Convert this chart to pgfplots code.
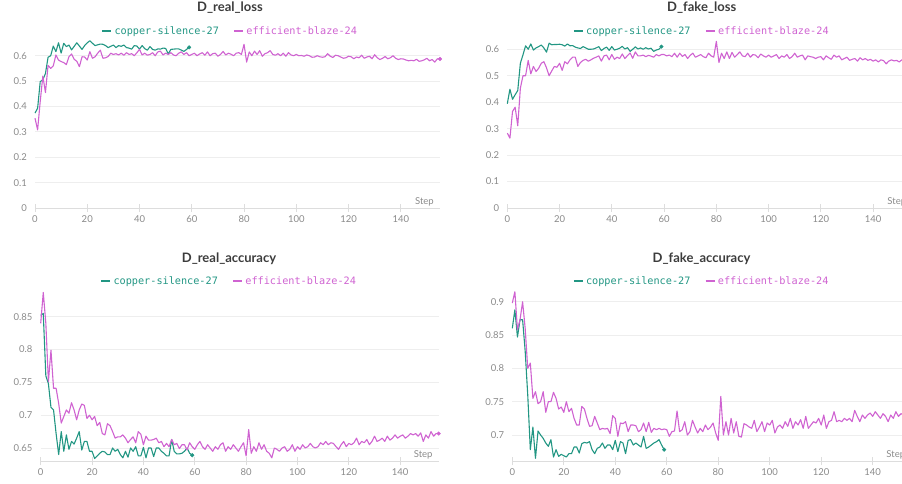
\documentclass[border=0pt]{standalone}
\usepackage{pgfplots}
\usepackage{pgfplotstable}
\pgfplotsset{compat=1.18}
\usepackage{fontspec}
\setmainfont{Lato}
\newfontfamily\monofont{DejaVu Sans Mono}

\definecolor{wbgreen}{HTML}{229683}
\definecolor{wbpink}{HTML}{CF63D1}
\definecolor{ticktext}{HTML}{8A8A8A}
\definecolor{titletext}{HTML}{3C3C3C}
\definecolor{gridgray}{HTML}{EEEEEE}
\definecolor{axisgray}{HTML}{DDDDDD}

% ---------- run data: D_real_loss ----------
\pgfplotstableread[row sep=\\]{
step v \\
0 0.374 \\ 1 0.393 \\ 2 0.498 \\ 3 0.505 \\ 4 0.530 \\ 5 0.594 \\ 6 0.600 \\ 7 0.638 \\ 8 0.616 \\ 9 0.651 \\
10 0.610 \\ 11 0.649 \\ 12 0.636 \\ 13 0.642 \\ 14 0.623 \\ 15 0.637 \\ 16 0.651 \\ 17 0.638 \\ 18 0.625 \\ 19 0.640 \\
20 0.651 \\ 21 0.659 \\ 22 0.649 \\ 23 0.640 \\ 24 0.643 \\ 25 0.646 \\ 26 0.645 \\ 27 0.640 \\ 28 0.632 \\ 29 0.637 \\
30 0.642 \\ 31 0.632 \\ 32 0.640 \\ 33 0.637 \\ 34 0.642 \\ 35 0.632 \\ 36 0.630 \\ 37 0.626 \\ 38 0.640 \\ 39 0.638 \\
40 0.626 \\ 41 0.640 \\ 42 0.628 \\ 43 0.622 \\ 44 0.636 \\ 45 0.625 \\ 46 0.622 \\ 47 0.627 \\ 48 0.626 \\ 49 0.630 \\
50 0.629 \\ 51 0.607 \\ 52 0.625 \\ 53 0.626 \\ 54 0.627 \\ 55 0.627 \\ 56 0.622 \\ 57 0.617 \\ 58 0.625 \\ 59 0.633 \\
}\realLossA
\pgfplotstableread[row sep=\\]{
step v \\
0 0.354 \\ 1 0.308 \\ 2 0.420 \\ 3 0.520 \\ 4 0.455 \\ 5 0.562 \\ 6 0.550 \\ 7 0.560 \\ 8 0.603 \\ 9 0.583 \\
10 0.577 \\ 11 0.573 \\ 12 0.565 \\ 13 0.596 \\ 14 0.607 \\ 15 0.586 \\ 16 0.578 \\ 17 0.557 \\ 18 0.596 \\ 19 0.595 \\
20 0.583 \\ 21 0.616 \\ 22 0.590 \\ 23 0.596 \\ 24 0.610 \\ 25 0.622 \\ 26 0.590 \\ 27 0.592 \\ 28 0.597 \\ 29 0.610 \\
30 0.605 \\ 31 0.608 \\ 32 0.603 \\ 33 0.610 \\ 34 0.602 \\ 35 0.612 \\ 36 0.605 \\ 37 0.608 \\ 38 0.600 \\ 39 0.612 \\
40 0.625 \\ 41 0.603 \\ 42 0.610 \\ 43 0.602 \\ 44 0.605 \\ 45 0.612 \\ 46 0.600 \\ 47 0.615 \\ 48 0.618 \\ 49 0.603 \\
50 0.610 \\ 51 0.605 \\ 52 0.612 \\ 53 0.603 \\ 54 0.600 \\ 55 0.610 \\ 56 0.615 \\ 57 0.605 \\ 58 0.612 \\ 59 0.600 \\
60 0.605 \\ 61 0.610 \\ 62 0.600 \\ 63 0.607 \\ 64 0.612 \\ 65 0.602 \\ 66 0.615 \\ 67 0.600 \\ 68 0.608 \\ 69 0.610 \\
70 0.598 \\ 71 0.605 \\ 72 0.617 \\ 73 0.603 \\ 74 0.610 \\ 75 0.606 \\ 76 0.600 \\ 77 0.610 \\ 78 0.612 \\ 79 0.605 \\
80 0.645 \\ 81 0.575 \\ 82 0.615 \\ 83 0.600 \\ 84 0.618 \\ 85 0.605 \\ 86 0.620 \\ 87 0.598 \\ 88 0.608 \\ 89 0.612 \\
90 0.620 \\ 91 0.605 \\ 92 0.602 \\ 93 0.608 \\ 94 0.600 \\ 95 0.610 \\ 96 0.598 \\ 97 0.612 \\ 98 0.603 \\ 99 0.600 \\
100 0.605 \\ 101 0.600 \\ 102 0.601 \\ 103 0.598 \\ 104 0.603 \\ 105 0.600 \\ 106 0.594 \\ 107 0.595 \\ 108 0.600 \\ 109 0.596 \\
110 0.594 \\ 111 0.596 \\ 112 0.608 \\ 113 0.598 \\ 114 0.593 \\ 115 0.602 \\ 116 0.600 \\ 117 0.595 \\ 118 0.590 \\ 119 0.592 \\
120 0.598 \\ 121 0.596 \\ 122 0.588 \\ 123 0.595 \\ 124 0.592 \\ 125 0.602 \\ 126 0.590 \\ 127 0.595 \\ 128 0.598 \\ 129 0.588 \\
130 0.604 \\ 131 0.592 \\ 132 0.585 \\ 133 0.590 \\ 134 0.597 \\ 135 0.588 \\ 136 0.592 \\ 137 0.600 \\ 138 0.590 \\ 139 0.585 \\
140 0.588 \\ 141 0.587 \\ 142 0.583 \\ 143 0.580 \\ 144 0.582 \\ 145 0.580 \\ 146 0.586 \\ 147 0.578 \\ 148 0.580 \\ 149 0.584 \\
150 0.590 \\ 151 0.580 \\ 152 0.585 \\ 153 0.575 \\ 154 0.588 \\ 155 0.587 \\
}\realLossB

% ---------- run data: D_fake_loss ----------
\pgfplotstableread[row sep=\\]{
step v \\
0 0.394 \\ 1 0.449 \\ 2 0.411 \\ 3 0.428 \\ 4 0.444 \\ 5 0.547 \\ 6 0.579 \\ 7 0.613 \\ 8 0.600 \\ 9 0.620 \\
10 0.597 \\ 11 0.605 \\ 12 0.610 \\ 13 0.616 \\ 14 0.605 \\ 15 0.589 \\ 16 0.623 \\ 17 0.617 \\ 18 0.618 \\ 19 0.618 \\
20 0.619 \\ 21 0.617 \\ 22 0.612 \\ 23 0.620 \\ 24 0.613 \\ 25 0.614 \\ 26 0.608 \\ 27 0.605 \\ 28 0.603 \\ 29 0.610 \\
30 0.605 \\ 31 0.600 \\ 32 0.600 \\ 33 0.601 \\ 34 0.605 \\ 35 0.610 \\ 36 0.595 \\ 37 0.603 \\ 38 0.608 \\ 39 0.596 \\
40 0.610 \\ 41 0.597 \\ 42 0.600 \\ 43 0.604 \\ 44 0.611 \\ 45 0.601 \\ 46 0.606 \\ 47 0.592 \\ 48 0.600 \\ 49 0.609 \\
50 0.601 \\ 51 0.605 \\ 52 0.600 \\ 53 0.606 \\ 54 0.601 \\ 55 0.604 \\ 56 0.592 \\ 57 0.597 \\ 58 0.600 \\ 59 0.610 \\
}\fakeLossA
\pgfplotstableread[row sep=\\]{
step v \\
0 0.283 \\ 1 0.264 \\ 2 0.365 \\ 3 0.381 \\ 4 0.311 \\ 5 0.453 \\ 6 0.500 \\ 7 0.500 \\ 8 0.558 \\ 9 0.507 \\
10 0.535 \\ 11 0.516 \\ 12 0.528 \\ 13 0.547 \\ 14 0.553 \\ 15 0.530 \\ 16 0.500 \\ 17 0.518 \\ 18 0.535 \\ 19 0.532 \\
20 0.547 \\ 21 0.520 \\ 22 0.553 \\ 23 0.545 \\ 24 0.560 \\ 25 0.570 \\ 26 0.570 \\ 27 0.535 \\ 28 0.550 \\ 29 0.558 \\
30 0.562 \\ 31 0.555 \\ 32 0.560 \\ 33 0.566 \\ 34 0.570 \\ 35 0.575 \\ 36 0.555 \\ 37 0.575 \\ 38 0.578 \\ 39 0.560 \\
40 0.580 \\ 41 0.562 \\ 42 0.570 \\ 43 0.565 \\ 44 0.582 \\ 45 0.565 \\ 46 0.576 \\ 47 0.586 \\ 48 0.566 \\ 49 0.590 \\
50 0.575 \\ 51 0.575 \\ 52 0.578 \\ 53 0.572 \\ 54 0.577 \\ 55 0.574 \\ 56 0.570 \\ 57 0.580 \\ 58 0.575 \\ 59 0.580 \\
60 0.580 \\ 61 0.575 \\ 62 0.578 \\ 63 0.572 \\ 64 0.585 \\ 65 0.570 \\ 66 0.585 \\ 67 0.573 \\ 68 0.580 \\ 69 0.565 \\
70 0.577 \\ 71 0.585 \\ 72 0.570 \\ 73 0.575 \\ 74 0.580 \\ 75 0.572 \\ 76 0.568 \\ 77 0.585 \\ 78 0.575 \\ 79 0.570 \\
80 0.630 \\ 81 0.550 \\ 82 0.585 \\ 83 0.565 \\ 84 0.590 \\ 85 0.565 \\ 86 0.588 \\ 87 0.570 \\ 88 0.580 \\ 89 0.590 \\
90 0.575 \\ 91 0.572 \\ 92 0.585 \\ 93 0.570 \\ 94 0.580 \\ 95 0.578 \\ 96 0.568 \\ 97 0.582 \\ 98 0.575 \\ 99 0.570 \\
100 0.578 \\ 101 0.570 \\ 102 0.575 \\ 103 0.580 \\ 104 0.565 \\ 105 0.575 \\ 106 0.570 \\ 107 0.580 \\ 108 0.565 \\ 109 0.572 \\
110 0.585 \\ 111 0.570 \\ 112 0.575 \\ 113 0.578 \\ 114 0.560 \\ 115 0.575 \\ 116 0.572 \\ 117 0.570 \\ 118 0.565 \\ 119 0.570 \\
120 0.572 \\ 121 0.560 \\ 122 0.575 \\ 123 0.568 \\ 124 0.562 \\ 125 0.578 \\ 126 0.570 \\ 127 0.575 \\ 128 0.560 \\ 129 0.565 \\
130 0.570 \\ 131 0.558 \\ 132 0.562 \\ 133 0.565 \\ 134 0.555 \\ 135 0.568 \\ 136 0.560 \\ 137 0.565 \\ 138 0.558 \\ 139 0.562 \\
140 0.555 \\ 141 0.560 \\ 142 0.552 \\ 143 0.560 \\ 144 0.557 \\ 145 0.545 \\ 146 0.555 \\ 147 0.560 \\ 148 0.556 \\ 149 0.558 \\
150 0.552 \\ 151 0.560 \\ 152 0.555 \\ 153 0.558 \\ 154 0.552 \\ 155 0.556 \\
}\fakeLossB

% ---------- run data: D_real_accuracy ----------
\pgfplotstableread[row sep=\\]{
step v \\
0 0.852 \\ 1 0.855 \\ 2 0.760 \\ 3 0.748 \\ 4 0.712 \\ 5 0.708 \\ 6 0.672 \\ 7 0.640 \\ 8 0.675 \\ 9 0.645 \\
10 0.670 \\ 11 0.648 \\ 12 0.660 \\ 13 0.656 \\ 14 0.665 \\ 15 0.675 \\ 16 0.647 \\ 17 0.660 \\ 18 0.660 \\ 19 0.645 \\
20 0.645 \\ 21 0.634 \\ 22 0.638 \\ 23 0.642 \\ 24 0.645 \\ 25 0.644 \\ 26 0.640 \\ 27 0.640 \\ 28 0.650 \\ 29 0.645 \\
30 0.648 \\ 31 0.640 \\ 32 0.635 \\ 33 0.645 \\ 34 0.636 \\ 35 0.650 \\ 36 0.645 \\ 37 0.652 \\ 38 0.638 \\ 39 0.638 \\
40 0.651 \\ 41 0.635 \\ 42 0.650 \\ 43 0.650 \\ 44 0.637 \\ 45 0.650 \\ 46 0.650 \\ 47 0.645 \\ 48 0.642 \\ 49 0.638 \\
50 0.638 \\ 51 0.663 \\ 52 0.645 \\ 53 0.641 \\ 54 0.641 \\ 55 0.642 \\ 56 0.645 \\ 57 0.650 \\ 58 0.642 \\ 59 0.639 \\
}\realAccA
\pgfplotstableread[row sep=\\]{
step v \\
0 0.840 \\ 1 0.887 \\ 2 0.840 \\ 3 0.751 \\ 4 0.799 \\ 5 0.741 \\ 6 0.741 \\ 7 0.718 \\ 8 0.688 \\ 9 0.698 \\
10 0.708 \\ 11 0.703 \\ 12 0.719 \\ 13 0.708 \\ 14 0.693 \\ 15 0.708 \\ 16 0.717 \\ 17 0.715 \\ 18 0.695 \\ 19 0.700 \\
20 0.693 \\ 21 0.698 \\ 22 0.684 \\ 23 0.689 \\ 24 0.672 \\ 25 0.670 \\ 26 0.687 \\ 27 0.684 \\ 28 0.675 \\ 29 0.665 \\
30 0.667 \\ 31 0.667 \\ 32 0.670 \\ 33 0.665 \\ 34 0.658 \\ 35 0.663 \\ 36 0.667 \\ 37 0.658 \\ 38 0.675 \\ 39 0.671 \\
40 0.655 \\ 41 0.668 \\ 42 0.662 \\ 43 0.662 \\ 44 0.663 \\ 45 0.665 \\ 46 0.658 \\ 47 0.660 \\ 48 0.652 \\ 49 0.657 \\
50 0.652 \\ 51 0.663 \\ 52 0.655 \\ 53 0.657 \\ 54 0.649 \\ 55 0.655 \\ 56 0.655 \\ 57 0.647 \\ 58 0.658 \\ 59 0.652 \\
60 0.648 \\ 61 0.655 \\ 62 0.660 \\ 63 0.652 \\ 64 0.648 \\ 65 0.655 \\ 66 0.650 \\ 67 0.645 \\ 68 0.652 \\ 69 0.648 \\
70 0.655 \\ 71 0.658 \\ 72 0.645 \\ 73 0.652 \\ 74 0.648 \\ 75 0.655 \\ 76 0.650 \\ 77 0.645 \\ 78 0.652 \\ 79 0.658 \\
80 0.638 \\ 81 0.678 \\ 82 0.642 \\ 83 0.652 \\ 84 0.645 \\ 85 0.658 \\ 86 0.648 \\ 87 0.655 \\ 88 0.645 \\ 89 0.642 \\
90 0.635 \\ 91 0.650 \\ 92 0.648 \\ 93 0.645 \\ 94 0.650 \\ 95 0.652 \\ 96 0.645 \\ 97 0.648 \\ 98 0.655 \\ 99 0.645 \\
100 0.652 \\ 101 0.648 \\ 102 0.655 \\ 103 0.650 \\ 104 0.652 \\ 105 0.657 \\ 106 0.652 \\ 107 0.650 \\ 108 0.652 \\ 109 0.658 \\
110 0.655 \\ 111 0.660 \\ 112 0.655 \\ 113 0.658 \\ 114 0.657 \\ 115 0.652 \\ 116 0.648 \\ 117 0.655 \\ 118 0.660 \\ 119 0.652 \\
120 0.657 \\ 121 0.655 \\ 122 0.658 \\ 123 0.665 \\ 124 0.655 \\ 125 0.660 \\ 126 0.658 \\ 127 0.663 \\ 128 0.655 \\ 129 0.660 \\
130 0.668 \\ 131 0.660 \\ 132 0.662 \\ 133 0.665 \\ 134 0.660 \\ 135 0.668 \\ 136 0.662 \\ 137 0.665 \\ 138 0.670 \\ 139 0.665 \\
140 0.668 \\ 141 0.670 \\ 142 0.665 \\ 143 0.668 \\ 144 0.672 \\ 145 0.670 \\ 146 0.672 \\ 147 0.668 \\ 148 0.673 \\ 149 0.660 \\
150 0.670 \\ 151 0.665 \\ 152 0.675 \\ 153 0.668 \\ 154 0.672 \\ 155 0.672 \\
}\realAccB

% ---------- run data: D_fake_accuracy ----------
\pgfplotstableread[row sep=\\]{
step v \\
0 0.860 \\ 1 0.888 \\ 2 0.847 \\ 3 0.873 \\ 4 0.873 \\ 5 0.826 \\ 6 0.760 \\ 7 0.678 \\ 8 0.712 \\ 9 0.665 \\
10 0.706 \\ 11 0.700 \\ 12 0.695 \\ 13 0.688 \\ 14 0.683 \\ 15 0.693 \\ 16 0.667 \\ 17 0.678 \\ 18 0.668 \\ 19 0.671 \\
20 0.669 \\ 21 0.667 \\ 22 0.672 \\ 23 0.672 \\ 24 0.682 \\ 25 0.682 \\ 26 0.673 \\ 27 0.687 \\ 28 0.689 \\ 29 0.688 \\
30 0.690 \\ 31 0.678 \\ 32 0.672 \\ 33 0.680 \\ 34 0.682 \\ 35 0.688 \\ 36 0.680 \\ 37 0.685 \\ 38 0.685 \\ 39 0.678 \\
40 0.692 \\ 41 0.675 \\ 42 0.690 \\ 43 0.688 \\ 44 0.672 \\ 45 0.692 \\ 46 0.693 \\ 47 0.685 \\ 48 0.688 \\ 49 0.685 \\
50 0.682 \\ 51 0.698 \\ 52 0.680 \\ 53 0.682 \\ 54 0.685 \\ 55 0.688 \\ 56 0.690 \\ 57 0.693 \\ 58 0.685 \\ 59 0.678 \\
}\fakeAccA
\pgfplotstableread[row sep=\\]{
step v \\
0 0.898 \\ 1 0.915 \\ 2 0.858 \\ 3 0.873 \\ 4 0.900 \\ 5 0.860 \\ 6 0.800 \\ 7 0.808 \\ 8 0.755 \\ 9 0.765 \\
10 0.747 \\ 11 0.750 \\ 12 0.765 \\ 13 0.734 \\ 14 0.750 \\ 15 0.750 \\ 16 0.764 \\ 17 0.755 \\ 18 0.739 \\ 19 0.742 \\
20 0.734 \\ 21 0.750 \\ 22 0.735 \\ 23 0.740 \\ 24 0.725 \\ 25 0.715 \\ 26 0.715 \\ 27 0.743 \\ 28 0.739 \\ 29 0.725 \\
30 0.713 \\ 31 0.714 \\ 32 0.728 \\ 33 0.718 \\ 34 0.708 \\ 35 0.710 \\ 36 0.709 \\ 37 0.710 \\ 38 0.702 \\ 39 0.729 \\
40 0.725 \\ 41 0.698 \\ 42 0.718 \\ 43 0.717 \\ 44 0.720 \\ 45 0.705 \\ 46 0.715 \\ 47 0.715 \\ 48 0.714 \\ 49 0.705 \\
50 0.708 \\ 51 0.718 \\ 52 0.705 \\ 53 0.719 \\ 54 0.704 \\ 55 0.710 \\ 56 0.708 \\ 57 0.710 \\ 58 0.708 \\ 59 0.709 \\
60 0.708 \\ 61 0.698 \\ 62 0.705 \\ 63 0.706 \\ 64 0.736 \\ 65 0.705 \\ 66 0.708 \\ 67 0.720 \\ 68 0.700 \\ 69 0.705 \\
70 0.722 \\ 71 0.712 \\ 72 0.703 \\ 73 0.710 \\ 74 0.705 \\ 75 0.715 \\ 76 0.708 \\ 77 0.712 \\ 78 0.718 \\ 79 0.703 \\
80 0.692 \\ 81 0.758 \\ 82 0.700 \\ 83 0.720 \\ 84 0.700 \\ 85 0.725 \\ 86 0.703 \\ 87 0.720 \\ 88 0.698 \\ 89 0.697 \\
90 0.717 \\ 91 0.715 \\ 92 0.712 \\ 93 0.710 \\ 94 0.722 \\ 95 0.705 \\ 96 0.712 \\ 97 0.720 \\ 98 0.705 \\ 99 0.718 \\
100 0.715 \\ 101 0.722 \\ 102 0.703 \\ 103 0.712 \\ 104 0.715 \\ 105 0.710 \\ 106 0.720 \\ 107 0.713 \\ 108 0.725 \\ 109 0.710 \\
110 0.720 \\ 111 0.715 \\ 112 0.723 \\ 113 0.710 \\ 114 0.728 \\ 115 0.710 \\ 116 0.715 \\ 117 0.720 \\ 118 0.718 \\ 119 0.725 \\
120 0.715 \\ 121 0.730 \\ 122 0.710 \\ 123 0.720 \\ 124 0.722 \\ 125 0.735 \\ 126 0.720 \\ 127 0.722 \\ 128 0.720 \\ 129 0.725 \\
130 0.722 \\ 131 0.725 \\ 132 0.720 \\ 133 0.737 \\ 134 0.728 \\ 135 0.720 \\ 136 0.730 \\ 137 0.725 \\ 138 0.730 \\ 139 0.733 \\
140 0.728 \\ 141 0.735 \\ 142 0.730 \\ 143 0.725 \\ 144 0.732 \\ 145 0.728 \\ 146 0.720 \\ 147 0.730 \\ 148 0.725 \\ 149 0.735 \\
150 0.728 \\ 151 0.732 \\ 152 0.730 \\ 153 0.735 \\ 154 0.725 \\ 155 0.730 \\
}\fakeAccB

\pgfplotsset{
  wbpanel/.style={
    scale only axis,
    xmin=0, xmax=155,
    axis x line*=bottom, axis y line*=left,
    x axis line style={draw=axisgray, line width=0.8pt, -},
    y axis line style={draw=none},
    xtick={0,20,...,140},
    ytick style={draw=none},
    xtick style={draw=axisgray, line width=0.8pt},
    xtick align=center,
    major tick length=8pt,
    ymajorgrids,
    major grid style={draw=gridgray, line width=0.8pt},
    tick label style={font=\fontsize{9.5}{11}\selectfont, text=ticktext},
    /pgf/number format/assume math mode=true,
    yticklabel style={/pgf/number format/fixed, /pgf/number format/precision=2, inner sep=0pt, xshift=-8pt},
    xticklabel style={inner sep=0pt, yshift=-3pt},
    xlabel={Step},
    xlabel style={at={(axis description cs:1,0)}, anchor=base east, inner sep=0pt,
      xshift=-6pt, yshift=4pt, font=\fontsize{9.5}{11}\selectfont, text=ticktext},
    title style={at={(axis description cs:0.5,1)}, anchor=base, inner sep=0pt,
      xshift=#1, yshift=22pt, font=\bfseries\fontsize{13}{15}\selectfont, text=titletext},
    legend style={at={(axis description cs:0.5,1)}, anchor=center, xshift=#1, yshift=9pt,
      draw=none, fill=none, inner sep=0pt,
      font=\monofont\fontsize{10.2}{12}\selectfont,
      /tikz/every even column/.append style={column sep=12pt}},
    legend columns=2,
    legend image code/.code={\draw[line width=2.5pt, line cap=butt] (0pt,0pt) -- (9pt,0pt);},
    clip=false,
  },
  greenline/.style={wbgreen, line width=1.1pt, line join=round, mark=none},
  pinkline/.style={wbpink, line width=1.1pt, line join=round, mark=none},
  enddot/.style={only marks, mark=*, mark size=1.8pt, forget plot},
}

\begin{document}
\begin{tikzpicture}
\useasboundingbox (0pt,0pt) rectangle (902pt,483pt);
\clip (0pt,0pt) rectangle (902pt,483pt);

% D_real_loss
\begin{axis}[wbpanel=-7.5pt, at={(35pt,275pt)}, anchor=south west,
  width=405pt, height=168pt, ymin=0, ymax=0.662, ytick={0,0.1,...,0.6},
  title={D\_real\_loss}]
  \addplot[greenline] table[x=step, y=v] {\realLossA};
  \addlegendentry{\textcolor{wbgreen}{copper-silence-27}}
  \addplot[pinkline] table[x=step, y=v] {\realLossB};
  \addlegendentry{\textcolor{wbpink}{efficient-blaze-24}}
  \addplot[enddot, wbgreen] coordinates {(59,0.633)};
  \addplot[enddot, wbpink] coordinates {(155,0.587)};
\end{axis}

% D_fake_loss
\begin{axis}[wbpanel=-8.1pt, at={(507.3pt,275pt)}, anchor=south west,
  width=405pt, height=168pt, ymin=0, ymax=0.635, ytick={0,0.1,...,0.6},
  title={D\_fake\_loss}]
  \addplot[greenline] table[x=step, y=v] {\fakeLossA};
  \addlegendentry{\textcolor{wbgreen}{copper-silence-27}}
  \addplot[pinkline] table[x=step, y=v] {\fakeLossB};
  \addlegendentry{\textcolor{wbpink}{efficient-blaze-24}}
  \addplot[enddot, wbgreen] coordinates {(59,0.610)};
  \addplot[enddot, wbpink] coordinates {(155,0.556)};
\end{axis}

% D_real_accuracy
\begin{axis}[wbpanel=-10.7pt, at={(40.7pt,22pt)}, anchor=south west,
  width=398pt, height=171pt, ymin=0.6302, ymax=0.8907,
  ytick={0.65,0.7,0.75,0.8,0.85},
  title={D\_real\_accuracy}]
  \addplot[greenline] table[x=step, y=v] {\realAccA};
  \addlegendentry{\textcolor{wbgreen}{copper-silence-27}}
  \addplot[pinkline] table[x=step, y=v] {\realAccB};
  \addlegendentry{\textcolor{wbpink}{efficient-blaze-24}}
  \addplot[enddot, wbgreen] coordinates {(59,0.639)};
  \addplot[enddot, wbpink] coordinates {(155,0.672)};
\end{axis}

% D_fake_accuracy
\begin{axis}[wbpanel=-10.3pt, at={(512.3pt,22pt)}, anchor=south west,
  width=399pt, height=171pt, ymin=0.661, ymax=0.9176,
  ytick={0.7,0.75,0.8,0.85,0.9},
  title={D\_fake\_accuracy}]
  \addplot[greenline] table[x=step, y=v] {\fakeAccA};
  \addlegendentry{\textcolor{wbgreen}{copper-silence-27}}
  \addplot[pinkline] table[x=step, y=v] {\fakeAccB};
  \addlegendentry{\textcolor{wbpink}{efficient-blaze-24}}
  \addplot[enddot, wbgreen] coordinates {(59,0.678)};
  \addplot[enddot, wbpink] coordinates {(155,0.730)};
\end{axis}
\end{tikzpicture}
\end{document}
